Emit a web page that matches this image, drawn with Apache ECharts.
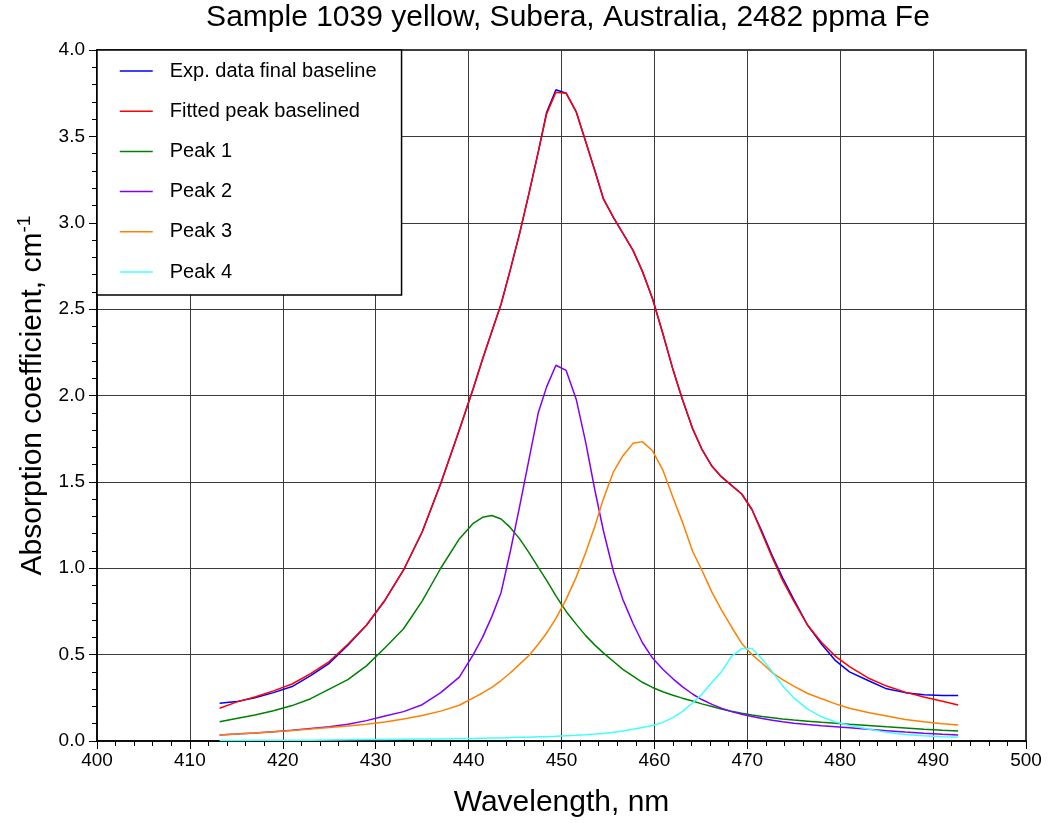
<!DOCTYPE html>
<html>
<head>
<meta charset="utf-8">
<script src="https://cdn.jsdelivr.net/npm/echarts@6/dist/echarts.min.js"></script>
<style>
html,body{margin:0;padding:0;background:#fff;}
#chart{width:1048px;height:823px;}
</style>
</head>
<body>
<div id="chart"></div>
<script>
var titleText = 'Sample 1039 yellow, Subera, Australia, 2482 ppma Fe';
var seriesNames = ['Exp. data final baseline', 'Fitted peak baselined', 'Peak 1', 'Peak 2', 'Peak 3', 'Peak 4'];
var seriesColors = ['#0000ff', '#ff0000', '#008000', '#8000ff', '#ff8000', '#40ffff'];

var wavelength = [413.2, 415, 417, 419, 421, 423, 425, 427, 429, 431, 433, 435, 437, 439, 440.5, 441.5, 442.5, 443.5, 444.5, 445.5, 446.5, 447.5, 448.4, 449.4, 450.5, 451.6, 452.6, 453.6, 454.5, 455.6, 456.6, 457.7, 458.7, 459.8, 460.9, 462, 463, 464.1, 465.1, 466.2, 467.2, 468.3, 469.4, 470.5, 471.6, 472.7, 473.8, 475, 476.5, 478, 479.5, 481, 483, 485, 487, 489, 491, 492.7];

var expData = [0.218, 0.228, 0.25, 0.28, 0.315, 0.378, 0.45, 0.555, 0.67, 0.815, 0.99, 1.21, 1.49, 1.80, 2.04, 2.21, 2.37, 2.53, 2.73, 2.94, 3.17, 3.41, 3.64, 3.77, 3.75, 3.64, 3.47, 3.30, 3.14, 3.03, 2.94, 2.84, 2.72, 2.56, 2.36, 2.15, 1.98, 1.81, 1.69, 1.59, 1.53, 1.48, 1.43, 1.34, 1.21, 1.07, 0.945, 0.82, 0.67, 0.56, 0.465, 0.40, 0.35, 0.302, 0.28, 0.268, 0.263, 0.263];

var fittedData = [0.19, 0.225, 0.255, 0.29, 0.33, 0.39, 0.46, 0.56, 0.67, 0.815, 0.99, 1.21, 1.49, 1.80, 2.04, 2.21, 2.37, 2.53, 2.73, 2.94, 3.17, 3.41, 3.63, 3.755, 3.75, 3.64, 3.47, 3.30, 3.14, 3.03, 2.94, 2.84, 2.72, 2.56, 2.36, 2.15, 1.98, 1.81, 1.69, 1.59, 1.53, 1.48, 1.43, 1.34, 1.20, 1.06, 0.93, 0.81, 0.67, 0.57, 0.49, 0.43, 0.365, 0.318, 0.283, 0.255, 0.23, 0.208];

var peak1 = [0.112, 0.13, 0.15, 0.175, 0.205, 0.245, 0.30, 0.355, 0.435, 0.54, 0.65, 0.81, 1.00, 1.17, 1.26, 1.295, 1.305, 1.285, 1.235, 1.17, 1.09, 1.005, 0.93, 0.84, 0.75, 0.675, 0.61, 0.555, 0.51, 0.46, 0.415, 0.375, 0.34, 0.31, 0.285, 0.265, 0.248, 0.232, 0.215, 0.2, 0.185, 0.172, 0.16, 0.15, 0.142, 0.135, 0.128, 0.122, 0.115, 0.108, 0.103, 0.097, 0.09, 0.082, 0.075, 0.068, 0.062, 0.058];

var peak2 = [0.035, 0.04, 0.046, 0.053, 0.062, 0.073, 0.082, 0.097, 0.118, 0.145, 0.17, 0.21, 0.28, 0.37, 0.5, 0.6, 0.72, 0.86, 1.10, 1.36, 1.63, 1.90, 2.05, 2.175, 2.145, 1.975, 1.73, 1.45, 1.22, 0.98, 0.82, 0.68, 0.57, 0.48, 0.415, 0.36, 0.315, 0.272, 0.24, 0.212, 0.19, 0.17, 0.155, 0.142, 0.13, 0.12, 0.111, 0.103, 0.095, 0.088, 0.083, 0.077, 0.068, 0.06, 0.052, 0.045, 0.039, 0.035];

var peak3 = [0.035, 0.04, 0.046, 0.053, 0.061, 0.069, 0.078, 0.087, 0.097, 0.11, 0.127, 0.148, 0.173, 0.207, 0.25, 0.278, 0.31, 0.35, 0.395, 0.445, 0.495, 0.56, 0.625, 0.71, 0.82, 0.95, 1.09, 1.245, 1.40, 1.56, 1.65, 1.723, 1.733, 1.68, 1.57, 1.41, 1.27, 1.10, 0.99, 0.86, 0.76, 0.66, 0.565, 0.5, 0.45, 0.395, 0.355, 0.318, 0.275, 0.245, 0.215, 0.19, 0.165, 0.145, 0.125, 0.112, 0.1, 0.093];

var peak4 = [0.003, 0.003, 0.004, 0.004, 0.005, 0.005, 0.006, 0.007, 0.008, 0.009, 0.01, 0.011, 0.012, 0.014, 0.015, 0.016, 0.017, 0.018, 0.02, 0.021, 0.022, 0.024, 0.025, 0.027, 0.03, 0.033, 0.036, 0.04, 0.044, 0.05, 0.058, 0.068, 0.078, 0.09, 0.108, 0.135, 0.17, 0.22, 0.27, 0.34, 0.40, 0.49, 0.535, 0.535, 0.475, 0.4, 0.32, 0.25, 0.185, 0.14, 0.11, 0.09, 0.07, 0.05, 0.037, 0.03, 0.024, 0.021];

var allValues = [expData, fittedData, peak1, peak2, peak3, peak4];

function pairs(vals) {
  return wavelength.map(function (w, i) { return [w, vals[i]]; });
}

var FONT = '"Liberation Sans", Arial, Helvetica, sans-serif';
var chart = echarts.init(document.getElementById('chart'), null, {renderer: 'canvas'});

var series = seriesNames.map(function (name, k) {
  return {
    name: name,
    type: 'line',
    data: pairs(allValues[k]),
    symbol: 'none',
    showSymbol: false,
    smooth: false,
    z: 2 + k,
    lineStyle: {color: seriesColors[k], width: 1.5},
    itemStyle: {color: seriesColors[k]},
    emphasis: {disabled: true},
    animation: false
  };
});

var option = {
  animation: false,
  backgroundColor: '#fff',
  textStyle: {fontFamily: FONT},
  graphic: [{
    type: 'text',
    x: 568,
    y: 3,
    style: {
      text: titleText,
      fontFamily: FONT,
      fontSize: 30,
      fill: '#000',
      textAlign: 'center',
      textVerticalAlign: 'top'
    }
  }],
  grid: {
    left: 97, right: 22, top: 50, bottom: 82,
    show: true, borderColor: '#000', borderWidth: 1.5, backgroundColor: 'transparent'
  },
  legend: {
    orient: 'vertical',
    left: 97,
    top: 50,
    padding: [11, 25, 13, 22],
    itemGap: 20.2,
    itemWidth: 33,
    itemHeight: 20,
    backgroundColor: '#fff',
    borderColor: '#000',
    borderWidth: 1.5,
    borderRadius: 0,
    selectedMode: false,
    itemStyle: {opacity: 0},
    lineStyle: {width: 1.5},
    data: seriesNames,
    textStyle: {fontFamily: FONT, fontSize: 20, color: '#000', padding: [0, 0, 0, 12]},
    z: 10
  },
  xAxis: {
    type: 'value',
    min: 400, max: 500, interval: 10,
    name: 'Wavelength, nm',
    nameLocation: 'middle',
    nameGap: 47,
    nameTextStyle: {fontFamily: FONT, fontSize: 30, color: '#000'},
    axisLine: {show: true, lineStyle: {color: '#000', width: 1.5}},
    axisTick: {show: true, length: 8, lineStyle: {color: '#000', width: 1}},
    minorTick: {show: true, splitNumber: 5, length: 5, lineStyle: {color: '#000', width: 1}},
    axisLabel: {fontFamily: FONT, fontSize: 19, color: '#000', margin: 10},
    splitLine: {show: true, lineStyle: {color: '#3a3a3a', width: 1}}
  },
  yAxis: {
    type: 'value',
    min: 0, max: 4, interval: 0.5,
    name: 'Absorption coefficient, cm{sup|-1}',
    nameLocation: 'middle',
    nameGap: 46,
    nameTextStyle: {
      fontFamily: FONT, fontSize: 30, color: '#000',
      rich: {sup: {fontFamily: FONT, fontSize: 19, color: '#000', verticalAlign: 'top', padding: [0, 0, 16, 0]}}
    },
    axisLine: {show: true, lineStyle: {color: '#000', width: 1.5}},
    axisTick: {show: true, length: 8, lineStyle: {color: '#000', width: 1}},
    minorTick: {show: true, splitNumber: 5, length: 5, lineStyle: {color: '#000', width: 1}},
    axisLabel: {fontFamily: FONT, fontSize: 19, color: '#000', margin: 12,
      formatter: function (v) { return v.toFixed(1); }},
    splitLine: {show: true, lineStyle: {color: '#3a3a3a', width: 1}}
  },
  series: series
};

chart.setOption(option);
</script>
</body>
</html>
